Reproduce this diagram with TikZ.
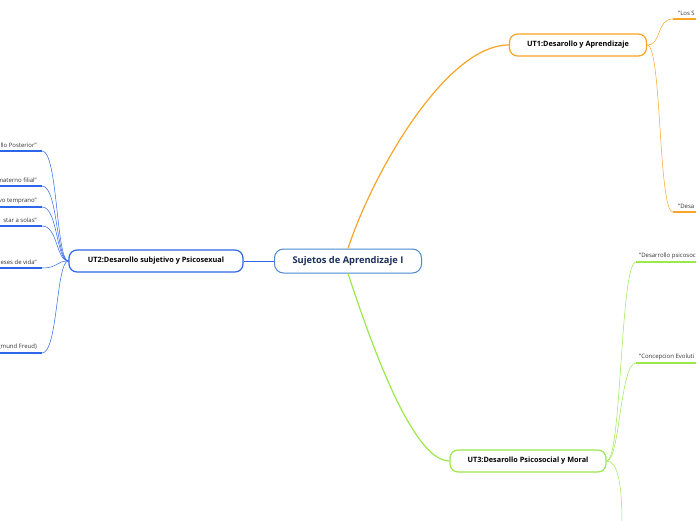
\documentclass[tikz,border=0pt]{standalone}
\usepackage{fontspec}
\setmainfont{Open Sans}
\definecolor{azulraiz}{HTML}{4A88CF}
\definecolor{azuloscuro}{HTML}{1B2D5A}
\definecolor{naranja}{HTML}{F8A424}
\definecolor{azul}{HTML}{2E66EA}
\definecolor{verde}{HTML}{9BE84A}
\definecolor{gris}{HTML}{333333}
\begin{document}
\begin{tikzpicture}[x=1pt,y=-1pt]
	% Estilos
	\tikzstyle{raiz}=[draw=azulraiz,line width=1pt,rounded corners=9pt,fill=white,text=azuloscuro,font=\bfseries\fontsize{9.3}{11}\selectfont,minimum width=147pt,minimum height=24pt]
	\tikzstyle{tema}=[line width=1.2pt,rounded corners=8pt,fill=white,text=black,font=\bfseries\fontsize{7.3}{9}\selectfont,minimum height=22pt]
	\tikzstyle{hoja}=[text=gris,font=\fontsize{6}{7}\selectfont,inner sep=1pt]
	\tikzstyle{rama}=[line width=1.2pt]
	\tikzstyle{ramita}=[line width=0.5pt]
	\tikzstyle{subrayado}=[line width=1.5pt]
	\useasboundingbox (0,0) rectangle (696,520);
	% Nodos principales
	\node[raiz] (raiz) at (348,261) {Sujetos de Aprendizaje I};
	\node[tema,draw=naranja,minimum width=137pt] (ut1) at (578,45) {UT1:Desarollo y Aprendizaje};
	\node[tema,draw=azul,minimum width=174pt] (ut2) at (156,261) {UT2:Desarollo subjetivo y Psicosexual};
	\node[tema,draw=verde,minimum width=156pt] (ut3) at (528,461) {UT3:Desarollo Psicosocial y Moral};
	% Hojas UT1
	\coordinate (a1) at (673,19); \coordinate (a1f) at (700,19);
	\coordinate (a2) at (673,212); \coordinate (a2f) at (700,212);
	\node[hoja,anchor=south west] (t1) at (677,17) {"Los S};
	\node[hoja,anchor=south west] (t2) at (677,210) {"Desa};
	% Hojas UT2
	\foreach \n/\y in {b1/151,b2/186,b3/207,b4/226,b5/268,b6/353}{
		\coordinate (\n) at (42,\y);
		\coordinate (\n i) at (-4,\y);
	}
	\node[hoja,anchor=south east] (t3) at (38,149) {llo Posterior"};
	\node[hoja,anchor=south east] (t4) at (38,184) {materno filial"};
	\node[hoja,anchor=south east] (t5) at (38,205) {vo temprano"};
	\node[hoja,anchor=south east] (t6) at (38,224) {star a solas"};
	\node[hoja,anchor=south east] (t7) at (38,266) {eses de vida"};
	\node[hoja,anchor=south east] (t8) at (38,351) {gmund Freud)};
	% Hojas UT3
	\coordinate (c1) at (636,262); \coordinate (c1f) at (700,262);
	\coordinate (c2) at (636,363); \coordinate (c2f) at (700,363);
	\coordinate (c3) at (622,524);
	\node[hoja,anchor=south west] (t9) at (638,260) {"Desarrollo psicosoci};
	\node[hoja,anchor=south west] (t10) at (638,361) {"Concepcion Evoluti};
	% Arcos principales
	\draw[rama,naranja] (raiz.north) .. controls (372,175) and (445,45) .. (ut1.west);
	\draw[ramita,azul,line width=0.8pt] (raiz.west) -- (ut2.east);
	\draw[rama,verde] (raiz.south) .. controls (370,340) and (412,461) .. (ut3.west);
	% Ramas UT1
	\draw[ramita,naranja] (ut1.east) .. controls (662,45) and (656,19) .. (a1);
	\draw[ramita,naranja] (ut1.east) .. controls (662,45) and (658,212) .. (a2);
	\draw[subrayado,naranja] (a1) -- (a1f);
	\draw[subrayado,naranja] (a2) -- (a2f);
	% Ramas UT2
	\foreach \n in {b1,b2,b3,b4,b5,b6}{
		\draw[ramita,azul] (ut2.west) .. controls (56,261) and (58,0|-\n) .. (\n);
		\draw[subrayado,azul] (\n) -- (\n i);
	}
	% Ramas UT3
	\draw[ramita,verde] (ut3.east) .. controls (622,461) and (620,262) .. (c1);
	\draw[ramita,verde] (ut3.east) .. controls (620,461) and (620,363) .. (c2);
	\draw[ramita,verde] (ut3.east) .. controls (618,461) and (622,485) .. (c3);
	\draw[subrayado,verde] (c1) -- (c1f);
	\draw[subrayado,verde] (c2) -- (c2f);
\end{tikzpicture}
\end{document}
